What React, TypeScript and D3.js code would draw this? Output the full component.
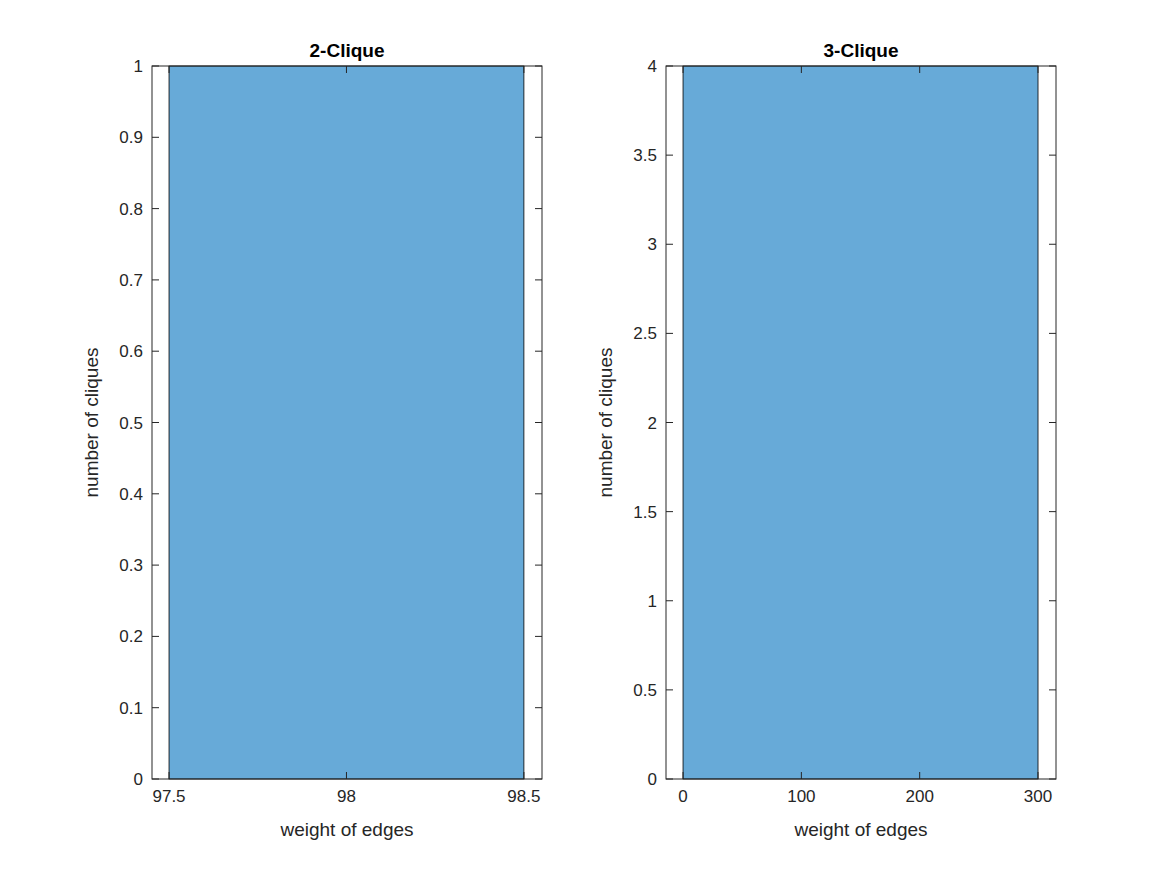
import React from "react";
import * as d3 from "d3";

const titles = ["2-Clique", "3-Clique"];
const binEdges = [[97.5, 98.5], [0, 300]];
const counts = [1, 4];
const xDomains = [[97.452, 98.551], [-14.4, 315.2]];
const xTicks = [[97.5, 98, 98.5], [0, 100, 200, 300]];
const yTicks = [
  [0, 0.1, 0.2, 0.3, 0.4, 0.5, 0.6, 0.7, 0.8, 0.9, 1],
  [0, 0.5, 1, 1.5, 2, 2.5, 3, 3.5, 4],
];
const yMax = [1, 4];
const xLefts = [152, 666];

export default function App() {
  const W = 1167, H = 875, top = 66, bottom = 779, pw = 390;
  const font = "'Liberation Sans', Arial, sans-serif";
  return (
    <svg width={W} height={H} style={{ position: "absolute", left: 0, top: 0, background: "#fff" }} fontFamily={font}>
      {titles.map((t, i) => {
        const x0 = xLefts[i];
        const x = d3.scaleLinear().domain(xDomains[i]).range([x0, x0 + pw]);
        const y = d3.scaleLinear().domain([0, yMax[i]]).range([bottom, top]);
        const tl = 7;
        return (
          <g key={i}>
            <rect x={x(binEdges[i][0])} y={y(counts[i])} width={x(binEdges[i][1]) - x(binEdges[i][0])}
              height={y(0) - y(counts[i])} fill="#67aad8" stroke="#000" strokeWidth={0.8} />
            <rect x={x0} y={top} width={pw} height={bottom - top} fill="none" stroke="#262626" strokeWidth={1} />
            {xTicks[i].map((v) => (
              <g key={v}>
                <line x1={x(v)} x2={x(v)} y1={bottom} y2={bottom - tl} stroke="#262626" />
                <line x1={x(v)} x2={x(v)} y1={top} y2={top + tl} stroke="#262626" />
                <text x={x(v)} y={bottom + 23} textAnchor="middle" fontSize={17} fill="#262626">{v}</text>
              </g>
            ))}
            {yTicks[i].map((v) => (
              <g key={v}>
                <line x1={x0} x2={x0 + tl} y1={y(v)} y2={y(v)} stroke="#262626" />
                <line x1={x0 + pw} x2={x0 + pw - tl} y1={y(v)} y2={y(v)} stroke="#262626" />
                <text x={x0 - 9} y={y(v) + 6} textAnchor="end" fontSize={17} fill="#262626">{v}</text>
              </g>
            ))}
            <text x={x0 + pw / 2} y={57} textAnchor="middle" fontSize={19} fontWeight="bold" fill="#000">{t}</text>
            <text x={x0 + pw / 2} y={836} textAnchor="middle" fontSize={19} fill="#262626">weight of edges</text>
            <text transform={`translate(${x0 - 54},${(top + bottom) / 2}) rotate(-90)`} textAnchor="middle" fontSize={19} fill="#262626">number of cliques</text>
          </g>
        );
      })}
    </svg>
  );
}
